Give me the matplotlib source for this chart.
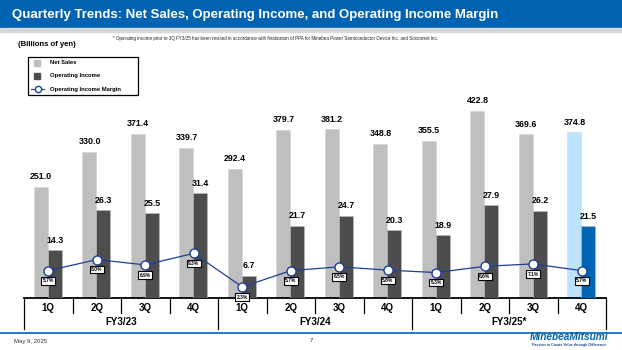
import numpy as np
import matplotlib.pyplot as plt
from matplotlib.patches import Rectangle

plt.rcParams['font.family'] = ['Liberation Sans', 'DejaVu Sans']

# Data
quarters = ['1Q', '2Q', '3Q', '4Q'] * 3
fiscal_years = ['FY3/23', 'FY3/24', 'FY3/25*']
net_sales = [251.0, 330.0, 371.4, 339.7, 292.4, 379.7, 381.2, 348.8, 355.5, 422.8, 369.6, 374.8]
op_income = [14.3, 26.3, 25.5, 31.4, 6.7, 21.7, 24.7, 20.3, 18.9, 27.9, 26.2, 21.5]
op_margin = [5.7, 8.0, 6.9, 9.3, 2.3, 5.7, 6.5, 5.8, 5.3, 6.6, 7.1, 5.7]

W, H = 622, 350
fig = plt.figure(figsize=(W / 100, H / 100), dpi=100)

def fx(px):
    return px / W

def fy(py):
    return 1 - py / H

# title bar
fig.patches.append(Rectangle((0, fy(28)), 1, 28 / H, transform=fig.transFigure,
                             color='#0063B2', zorder=0))
fig.patches.append(Rectangle((0, fy(32)), 1, 4 / H, transform=fig.transFigure,
                             color='#D9D9D9', zorder=0))
fig.text(fx(12), fy(15), 'Quarterly Trends: Net Sales, Operating Income, and Operating Income Margin',
         color='white', fontsize=9.5, fontweight='bold', va='center', ha='left')
fig.text(fx(113), fy(38.5), '* Operating income prior to 3Q FY3/25 has been revised in accordance with '
         'finalization of PPA for Minebea Power Semiconductor Device Inc. and Socionext Inc.',
         fontsize=3.25, va='center', ha='left', color='#222222')
fig.text(fx(18), fy(45), '(Billions of yen)', fontsize=5.6, fontweight='bold', va='center')

# footer
fig.lines.append(plt.Line2D([0, 1], [fy(333), fy(333)], transform=fig.transFigure,
                            color='#0063B2', lw=1.2))
fig.text(fx(14), fy(341), 'May 9, 2025', fontsize=4.3, va='center', color='#333333')
fig.text(fx(310), fy(341), '7', fontsize=4.3, va='center', color='#333333')
fig.text(fx(569), fy(337), 'MinebeaMitsumi', fontsize=7.3, fontweight='bold', style='italic',
         color='#0063B2', va='center', ha='center')
fig.text(fx(569), fy(345), 'Passion to Create Value through Difference', fontsize=2.6,
         fontweight='bold', color='#1F4E9A', va='center', ha='center')

# axes geometry
left, right, base, top = 24, 606, 298, 50
rect = [fx(left), 1 - base / H, (right - left) / W, (base - top) / H]
ax = fig.add_axes(rect)
ax2 = fig.add_axes(rect)
ax3 = fig.add_axes(rect)
hpx = base - top
ax.set_ylim(0, hpx / 0.4425)
ax2.set_ylim(0, hpx / 3.33)
ax3.set_ylim(0, hpx / 4.8)
for a in (ax, ax2, ax3):
    a.set_xlim(0, 12)
    a.axis('off')
    a.patch.set_alpha(0)

x = np.arange(12) + 0.5
bw = 0.29
sales_colors = ['#BFBFBF'] * 11 + ['#BDE2FD']
inc_colors = ['#4D4D4D'] * 11 + ['#0066B3']
ax.bar(x - bw / 2 - 0.01, net_sales, bw, color=sales_colors, edgecolor='#D4D4D4', lw=0.4)
ax2.bar(x + bw / 2 - 0.01, op_income, bw, color=inc_colors, edgecolor='#BBBBBB', lw=0.4)

for xi, v in zip(x, net_sales):
    ax.annotate(f'{v:.1f}', (xi - bw / 2, v), xytext=(0, 4), textcoords='offset points',
                ha='center', va='bottom', fontsize=6.4, fontweight='bold')
for xi, v in zip(x, op_income):
    ax2.annotate(f'{v:.1f}', (xi + bw / 2, v), xytext=(0, 4), textcoords='offset points',
                 ha='center', va='bottom', fontsize=6.4, fontweight='bold')

ax3.plot(x, op_margin, color='#1F3F94', lw=0.9, marker='o', ms=6.5,
         mfc='white', mec='#1F3F94', mew=1.0, clip_on=False)
for xi, v in zip(x, op_margin):
    ax3.annotate(f'{v:.1f}%', (xi, v), xytext=(0, -7.3), textcoords='offset points',
                 ha='center', va='center', fontsize=3.6, fontweight='bold',
                 bbox=dict(boxstyle='square,pad=0.25', fc='white', ec='black', lw=0.8))

# category axis
ax.plot([0, 12], [0, 0], color='black', lw=1.3, clip_on=False, zorder=5)
xt = ax.get_xaxis_transform()
for i in range(13):
    depth = 31 if i % 4 == 0 else 15
    ax.plot([i, i], [0, -depth / hpx], color='black', lw=0.9, transform=xt, clip_on=False)
for xi, q in zip(x, quarters):
    ax.text(xi, -10 / hpx, q, transform=xt, ha='center', va='center',
            fontsize=7, fontweight='bold')
for g, fy_lab in enumerate(fiscal_years):
    ax.text(g * 4 + 2, -24 / hpx, fy_lab, transform=xt, ha='center', va='center',
            fontsize=7, fontweight='bold')

# legend
fig.patches.append(Rectangle((fx(28), fy(95)), fx(110), 38 / H, transform=fig.transFigure,
                             fc='white', ec='black', lw=0.9))
fig.patches.append(Rectangle((fx(34), fy(66)), fx(6), 6 / H, transform=fig.transFigure,
                             color='#BFBFBF'))
fig.patches.append(Rectangle((fx(34), fy(79)), fx(6), 6 / H, transform=fig.transFigure,
                             color='#4D4D4D'))
fig.lines.append(plt.Line2D([fx(31), fx(37.5), fx(44)], [fy(89)] * 3, transform=fig.transFigure,
                            color='#1F3F94', lw=0.8, marker='o', ms=4.5, mfc='white',
                            mec='#1F3F94', markevery=[1]))
for yy, lab in zip([63, 76, 89], ['Net Sales', 'Operating Income', 'Operating Income Margin']):
    fig.text(fx(50), fy(yy), lab, fontsize=4.2, fontweight='bold', va='center')

fig.savefig('out.png', dpi=100)
